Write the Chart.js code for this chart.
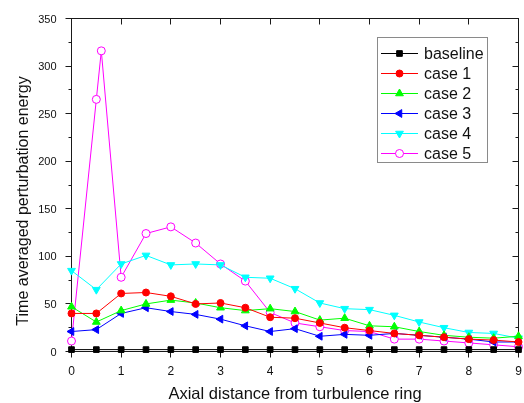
<!DOCTYPE html>
<html>
<head>
<meta charset="utf-8">
<script src="https://cdn.jsdelivr.net/npm/chart.js@4.4.1/dist/chart.umd.min.js"></script>
<style>
  html, body { margin: 0; background: #fff; }
  #wrap { width: 524px; height: 403px; position: relative; }
</style>
</head>
<body>
<div id="wrap"><canvas id="energyChart"></canvas></div>
<script>
// axial positions (every half unit), case 5 has an extra sample near the peak
const axialPos = [0, 0.5, 1, 1.5, 2, 2.5, 3, 3.5, 4, 4.5, 5, 5.5, 6, 6.5, 7, 7.5, 8, 8.5, 9];
const axialPosCase5 = [0, 0.5, 0.6, 1, 1.5, 2, 2.5, 3, 3.5, 4, 4.5, 5, 5.5, 6, 6.5, 7, 7.5, 8, 8.5, 9];

const baseline = [2, 2, 2, 2, 2, 2, 2, 2, 2, 2, 2, 2, 2, 2, 2, 2, 2, 2, 2];
const case1 = [40, 40, 61, 62, 58, 50, 51, 46, 36, 35, 30, 25, 22, 19, 17, 15, 13, 12, 10];
const case2 = [47, 31, 43, 50, 54, 51, 46, 43, 45, 42, 33, 35, 27, 26, 21, 17, 15, 14, 16];
const case3 = [21, 23, 40, 46, 42, 39, 34, 27, 21, 24, 16, 18, 17, 19, 17, 15, 13, 10, 10];
const case4 = [85, 65, 92, 101, 91, 92, 91, 78, 77, 66, 51, 45, 44, 38, 31, 25, 20, 19, 14];
const case5 = [11, 265, 316, 78, 124, 131, 114, 92, 74, 41, 30, 26, 22, 21, 13, 13, 11, 9, 7, 5];

const seriesNames = ['baseline', 'case 1', 'case 2', 'case 3', 'case 4', 'case 5'];
const xTicks = [0, 1, 2, 3, 4, 5, 6, 7, 8, 9];
const yTicks = [0, 50, 100, 150, 200, 250, 300, 350];

const FONT = '"Liberation Sans", Arial, Helvetica, sans-serif';

const toPoints = (xs, ys) => xs.map((x, i) => ({ x: x, y: ys[i] }));

function series(label, xs, ys, color, style, radius, rotation, fill) {
    return {
        label: label,
        data: toPoints(xs, ys),
        borderColor: color,
        borderWidth: 1,
        pointStyle: style,
        pointRadius: radius,
        pointRotation: rotation,
        pointBackgroundColor: fill || color,
        pointBorderColor: color,
        pointBorderWidth: 1,
        tension: 0,
        clip: false
    };
}

const datasets = [
    series(seriesNames[0], axialPos, baseline, '#000000', 'rect', 4, 0),
    series(seriesNames[1], axialPos, case1, '#ff0000', 'circle', 3.5, 0),
    series(seriesNames[2], axialPos, case2, '#00ff00', 'triangle', 4.5, 0),
    series(seriesNames[3], axialPos, case3, '#0000ff', 'triangle', 4.5, -90),
    series(seriesNames[4], axialPos, case4, '#00ffff', 'triangle', 4.5, 180),
    series(seriesNames[5], axialPosCase5, case5, '#ff00ff', 'circle', 4, 0, '#ffffff')
];

// box frame with ticks on all four sides
const frame = {
    id: 'frame',
    beforeDatasetsDraw(chart) {
        const { ctx, chartArea: a, scales: { x, y } } = chart;
        ctx.save();
        ctx.strokeStyle = '#1a1a1a';
        ctx.lineWidth = 1;
        ctx.strokeRect(a.left, a.top, a.right - a.left, a.bottom - a.top);
        ctx.beginPath();
        xTicks.forEach(v => {
            const px = Math.round(x.getPixelForValue(v) - 0.5) + 0.5;
            ctx.moveTo(px, a.bottom); ctx.lineTo(px, a.bottom + 6);
            ctx.moveTo(px, a.top); ctx.lineTo(px, a.top + 6);
        });
        yTicks.forEach((v, i) => {
            const py = Math.round(y.getPixelForValue(v) - 0.5) + 0.5;
            ctx.moveTo(a.left - 6, py); ctx.lineTo(a.left, py);
            ctx.moveTo(a.right, py); ctx.lineTo(a.right - 6, py);
            if (i < yTicks.length - 1) {
                const mid = Math.round(y.getPixelForValue((v + yTicks[i + 1]) / 2) - 0.5) + 0.5;
                ctx.moveTo(a.left - 3, mid); ctx.lineTo(a.left, mid);
                ctx.moveTo(a.right, mid); ctx.lineTo(a.right - 3, mid);
            }
        });
        ctx.stroke();
        ctx.restore();
    }
};

// tick labels, axis titles and the boxed legend
const labels = {
    id: 'labels',
    afterDraw(chart) {
        const { ctx, chartArea: a, scales: { x, y } } = chart;
        ctx.save();
        ctx.fillStyle = '#111';

        ctx.font = '11px ' + FONT;
        ctx.textAlign = 'right';
        ctx.textBaseline = 'middle';
        yTicks.forEach(v => ctx.fillText(String(v), a.left - 15, y.getPixelForValue(v) + 1));

        ctx.font = '12px ' + FONT;
        ctx.textAlign = 'center';
        xTicks.forEach(v => ctx.fillText(String(v), x.getPixelForValue(v), a.bottom + 20.5));

        ctx.font = '16.5px ' + FONT;
        ctx.fillText('Axial distance from turbulence ring', (a.left + a.right) / 2, 394);

        ctx.save();
        ctx.translate(24, 201);
        ctx.rotate(-Math.PI / 2);
        ctx.font = '16px ' + FONT;
        ctx.fillText('Time averaged perturbation energy', 0, 0);
        ctx.restore();

        // legend
        const box = { left: 377.5, top: 37.5, width: 110, height: 125 };
        ctx.fillStyle = '#fff';
        ctx.fillRect(box.left, box.top, box.width, box.height);
        ctx.strokeStyle = '#8a8a8a';
        ctx.lineWidth = 1;
        ctx.strokeRect(box.left, box.top, box.width, box.height);
        ctx.font = '16px ' + FONT;
        ctx.textAlign = 'left';
        chart.data.datasets.forEach((ds, i) => {
            const ry = 53.5 + i * 20;
            ctx.strokeStyle = ds.borderColor;
            ctx.beginPath();
            ctx.moveTo(381, ry); ctx.lineTo(418, ry);
            ctx.stroke();
            ctx.fillStyle = ds.pointBackgroundColor;
            ctx.strokeStyle = ds.pointBorderColor;
            Chart.helpers.drawPoint(ctx, {
                pointStyle: ds.pointStyle,
                radius: ds.pointRadius,
                rotation: ds.pointRotation,
                borderWidth: 1
            }, 399.5, ry);
            ctx.fillStyle = '#111';
            ctx.fillText(ds.label, 424, ry + 1);
        });
        ctx.restore();
    }
};

new Chart(document.getElementById('energyChart'), {
    type: 'line',
    data: { datasets: datasets },
    options: {
        responsive: true,
        maintainAspectRatio: false,
        animation: false,
        layout: { padding: { top: 18.5, right: 2.5, left: 0, bottom: 0 } },
        plugins: { legend: { display: false }, tooltip: { enabled: false } },
        scales: {
            x: {
                type: 'linear', min: 0, max: 9,
                ticks: { display: false, stepSize: 1 },
                grid: { display: false }, border: { display: false },
                afterFit: s => { s.height = 51.5; }
            },
            y: {
                min: 0, max: 350,
                ticks: { display: false, stepSize: 50 },
                grid: { display: false }, border: { display: false },
                afterFit: s => { s.width = 71.5; }
            }
        }
    },
    plugins: [frame, labels]
});
</script>
</body>
</html>
